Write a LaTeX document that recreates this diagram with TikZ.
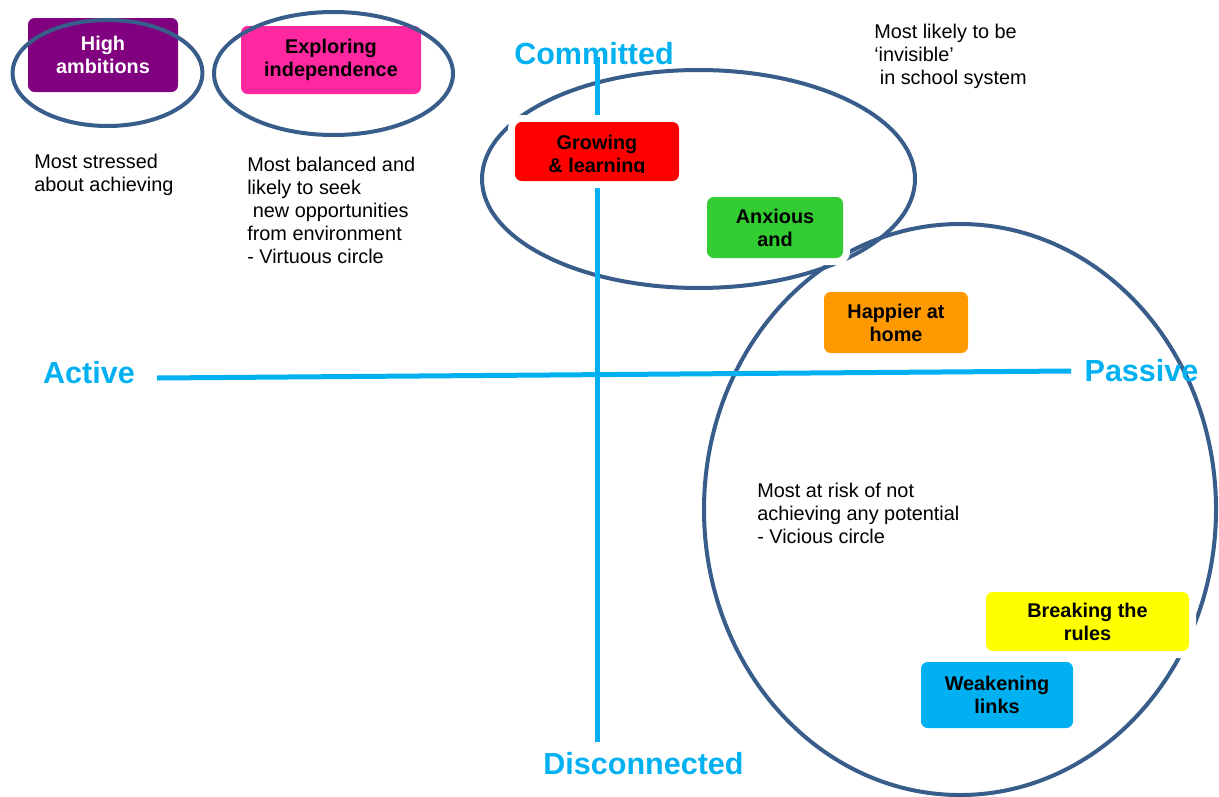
\documentclass[tikz,border=0pt]{standalone}
\usepackage{fontspec}
\setmainfont{Liberation Sans}
\usetikzlibrary{shapes.geometric}

\definecolor{axiscyan}{RGB}{0,176,240}
\definecolor{ringblue}{RGB}{56,93,138}
\definecolor{hipurple}{RGB}{128,0,128}
\definecolor{hipink}{RGB}{255,40,160}
\definecolor{grred}{RGB}{255,0,0}
\definecolor{anxgreen}{RGB}{51,204,51}
\definecolor{haporange}{RGB}{255,153,0}
\definecolor{brkyellow}{RGB}{255,255,0}
\definecolor{weakcyan}{RGB}{0,176,240}

\begin{document}
\begin{tikzpicture}[x=0.75pt,y=-0.75pt,
  axisline/.style={draw=axiscyan, line width=3.75pt},
  axislabel/.style={text=axiscyan, inner sep=0pt,
    font=\fontsize{22.9}{27}\selectfont\bfseries},
  ring/.style={ellipse, draw=ringblue, line width=3pt, inner sep=0pt},
  groupbox/.style={rounded corners=5pt, inner sep=0pt, align=center,
    font=\fontsize{14.9}{17.25}\selectfont\bfseries,
    preaction={draw=white, line width=10.5pt}},
  note/.style={anchor=north west, inner sep=0pt, align=left,
    font=\fontsize{14.9}{17.25}\selectfont}
]
\useasboundingbox (0,0) rectangle (1219,796);

% large rings around the committed and passive groups
\node[ring, minimum width=324.75pt, minimum height=163.5pt] (ringC) at (698.5,179) {};
\node[ring, minimum width=384pt, minimum height=428.25pt] (ringP) at (960,509.5) {};

% axes
\coordinate (vtop) at (597,57);
\coordinate (vbot) at (597,742);
\coordinate (hleft) at (157,378);
\coordinate (hright) at (1071,371);
\draw[axisline] (vtop) -- (vbot);
\draw[axisline] (hleft) -- (hright);

\node[axislabel] (lblC) at (594,54) {Committed};
\node[axislabel] (lblD) at (643.5,763.5) {Disconnected};
\node[axislabel] (lblA) at (89,373) {Active};
\node[axislabel] (lblP) at (1141.5,371) {Passive};

% group boxes
\node[groupbox, fill=hipurple, text=white, minimum width=112.5pt, minimum height=55.5pt]
  (high) at (103,55) {High\\ambitions};
\node[groupbox, fill=hipink, minimum width=135pt, minimum height=51pt]
  (explore) at (331,60) {Exploring\\independence};
\node[groupbox, fill=grred, minimum width=123pt, minimum height=44.25pt]
  (grow) at (597,151.5) {};
\begin{scope}
  \clip (515,122) rectangle (679,172);
  \node[inner sep=0pt, align=center, font=\fontsize{14.9}{17.25}\selectfont\bfseries]
    (growtext) at (597,155.5) {Growing\\\& learning};
\end{scope}
\node[groupbox, fill=anxgreen, minimum width=102pt, minimum height=45.75pt]
  (anx) at (775,227.5) {Anxious\\and};
\node[groupbox, fill=haporange, minimum width=108pt, minimum height=45.75pt]
  (happy) at (896,322.5) {Happier at\\home};
\node[groupbox, fill=brkyellow, minimum width=152.25pt, minimum height=44.25pt]
  (rules) at (1087.5,621.5) {Breaking the\\rules};
\node[groupbox, fill=weakcyan, minimum width=114pt, minimum height=49.5pt]
  (weak) at (997,695) {Weakening\\links};

% small rings drawn over the two top-left boxes
\node[ring, minimum width=142.5pt, minimum height=79.5pt] (ringH) at (107.5,73) {};
\node[ring, minimum width=179.25pt, minimum height=92.25pt] (ringE) at (333.5,73.5) {};

% notes
\node[note] (noteH) at (34,154) {Most stressed\\about achieving};
\node[note] (noteE) at (247,157) {Most balanced and\\likely to seek\\\hspace*{0.28em}new opportunities\\from environment\\- Virtuous circle};
\node[note] (noteI) at (874,24) {Most likely to be\\‘invisible’\\\hspace*{0.28em}in school system};
\node[note] (noteR) at (757,483) {Most at risk of not\\achieving any potential\\- Vicious circle};
\end{tikzpicture}
\end{document}
